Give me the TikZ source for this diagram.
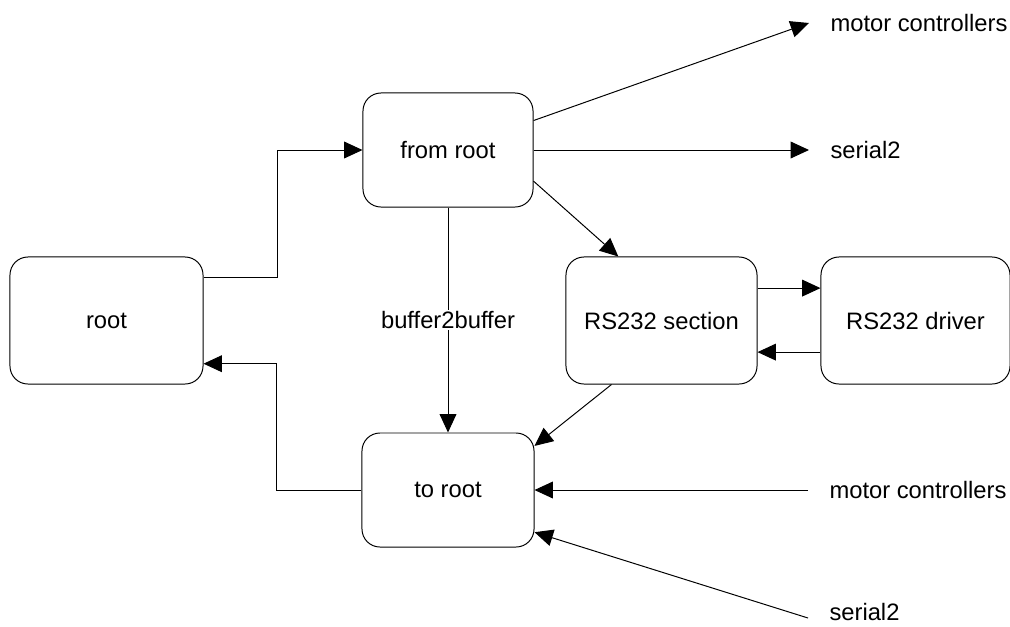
\documentclass[tikz,border=0pt]{standalone}
\usepackage{fontspec}
\setmainfont{Liberation Sans}
\usepackage{tikz}
\usetikzlibrary{arrows.meta, positioning, calc}
\tikzset{
	modblk/.style ={rectangle, rounded corners=0.45cm, draw=black, line width=0.7pt, align=center},
	portlbl/.style={anchor=west, inner xsep=0.53cm, inner ysep=0pt},
	sig/.style    ={-{Triangle[length=4.6mm, width=4.2mm]}, line width=0.7pt},
}
\begin{document}
\begin{tikzpicture}[x=0.025cm, y=-0.025cm, font=\fontsize{16.9}{20}\selectfont]
	\useasboundingbox (0,0) rectangle (1010,626);
	% modules
	\node[modblk, minimum width=4.825cm, minimum height=3.175cm] (root) at (106.5,320.5) {root};
	\node[modblk, minimum width=4.25cm, minimum height=2.85cm] (from) at (448,150) {from root};
	\node[modblk, minimum width=4.3cm, minimum height=2.85cm] (to) at (448,490) {to root};
	\node[modblk, minimum width=4.775cm, minimum height=3.175cm] (sec) at (661.5,320.5) {RS232 section};
	\node[modblk, minimum width=4.725cm, minimum height=3.175cm] (drv) at (915.5,320.5) {RS232 driver};
	% outside ports
	\node[portlbl] (outMC) at (809,23) {motor controllers};
	\node[portlbl] (outS2) at (809,150) {serial2};
	\node[portlbl] (inMC) at (808,490) {motor controllers};
	\node[portlbl] (inS2) at (808,612) {serial2};
	% connections
	\draw[sig] (root.24) -- ++(74,0) |- (from.west);
	\draw[sig] (to.west) -- ++(-85,0) |- (root.-24);
	\draw[sig] (from) -- node[fill=white, inner sep=1pt] {buffer2buffer} (to);
	\draw[sig] (from.19) -- (outMC.west);
	\draw[sig] (from.east) -- (outS2.west);
	\draw[sig] (from.-20) -- (sec.124);
	\draw[sig] ([yshift=8.1mm]sec.east) -- ([yshift=8.1mm]drv.west);
	\draw[sig] ([yshift=-7.9mm]drv.west) -- ([yshift=-7.9mm]sec.east);
	\draw[sig] (sec.232) -- (to.27);
	\draw[sig] (inMC.west) -- (to.east);
	\draw[sig] ([yshift=-1.5mm]inS2.west) -- (to.-26);
\end{tikzpicture}
\end{document}
